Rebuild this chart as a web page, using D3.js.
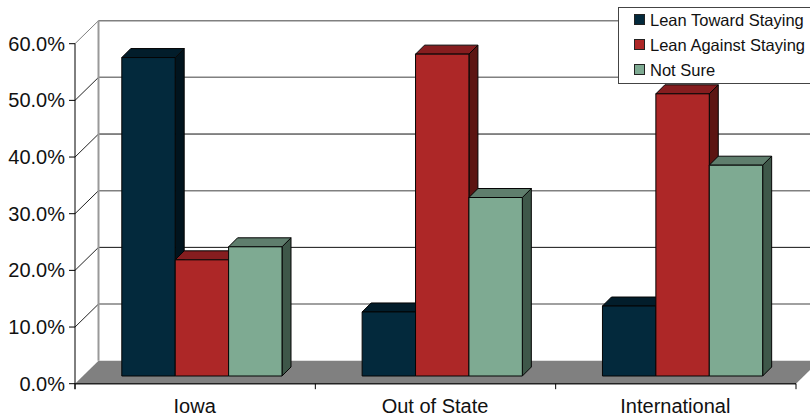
<!DOCTYPE html>
<html>
<head>
<meta charset="utf-8">
<script src="https://cdn.jsdelivr.net/npm/d3@7"></script>
<style>
  html, body { margin: 0; padding: 0; background: #fff; }
  svg { display: block; }
  text { font-family: "Liberation Sans", Arial, sans-serif; fill: #111; }
</style>
</head>
<body>
<div id="chart"></div>
<script>
const categories = ["Iowa", "Out of State", "International"];
const seriesNames = ["Lean Toward Staying", "Lean Against Staying", "Not Sure"];
const leanToward = [56.2, 11.3, 12.35];
const leanAgainst = [20.5, 56.8, 49.8];
const notSure = [22.8, 31.5, 37.2];
const yTicks = [0, 10, 20, 30, 40, 50, 60];
const darkGridTicks = [20, 40];
const frontColors = ["#03293c", "#ad2727", "#7eaa92"];
const topColors = ["#021d2b", "#861d1f", "#5f7e6d"];
const sideColors = ["#01141e", "#5c1512", "#3e5749"];

const width = 810, height = 417;
const svg = d3.select("#chart").append("svg")
  .attr("width", width).attr("height", height);

const x = d3.scaleBand().domain(categories).range([75, 796]);
const y = d3.scaleLinear().domain([0, 60]).range([383.7, 43.7]);

// Depth of the back wall and of each bar in the oblique projection.
const wallDx = 23.5, wallDy = -23;
const barDx = 9, barDy = -9;
const baseDy = -7.7;
const barW = 53.4;
const barStart = 46.8;

const pts = a => a.map(p => p.join(",")).join(" ");

// Floor
svg.append("polygon")
  .attr("points", pts([
    [x.range()[0], y(0)],
    [x.range()[0] + wallDx, y(0) + wallDy],
    [x.range()[1] + wallDx, y(0) + wallDy],
    [x.range()[1], y(0)]
  ]))
  .attr("fill", "#808080");

// Back wall gridlines and their slanted run to the axis
const grid = svg.append("g").attr("fill", "none");
yTicks.filter(t => t > 0).forEach(t => {
  const dark = darkGridTicks.includes(t);
  grid.append("line")
    .attr("x1", x.range()[0] + wallDx).attr("x2", width)
    .attr("y1", y(t) + wallDy).attr("y2", y(t) + wallDy)
    .attr("stroke", dark ? "#111" : "#808080").attr("stroke-width", dark ? 1 : 1.5);
  grid.append("line")
    .attr("x1", x.range()[0]).attr("x2", x.range()[0] + wallDx)
    .attr("y1", y(t)).attr("y2", y(t) + wallDy)
    .attr("stroke", t === 60 ? "#808080" : "#222").attr("stroke-width", 1);
});
grid.append("line")
  .attr("x1", x.range()[0] + wallDx).attr("x2", x.range()[0] + wallDx)
  .attr("y1", y(60) + wallDy).attr("y2", y(0) + wallDy)
  .attr("stroke", "#999").attr("stroke-width", 2);

// Bars: front, top and side faces
const seriesValues = [leanToward, leanAgainst, notSure];
const barsG = svg.append("g");
const barRows = [];
categories.forEach((c, ci) => {
  seriesValues.forEach((vals, si) => barRows.push({ c, si, v: vals[ci] }));
});
barsG.selectAll("g.bar").data(barRows).join("g").attr("class", "bar").each(function (d) {
  const g = d3.select(this);
  const x0 = x(d.c) + barStart + d.si * barW;
  const x1 = x0 + barW;
  const yb = y(0) + baseDy;
  const yt = y(d.v) + baseDy;
  const face = (points, fill) => g.append("polygon")
    .attr("points", pts(points)).attr("fill", fill)
    .attr("stroke", "#050505").attr("stroke-width", 1).attr("stroke-linejoin", "round");
  face([[x1, yb], [x1 + barDx, yb + barDy], [x1 + barDx, yt + barDy], [x1, yt]], sideColors[d.si]);
  face([[x0, yt], [x0 + barDx, yt + barDy], [x1 + barDx, yt + barDy], [x1, yt]], topColors[d.si]);
  face([[x0, yb], [x0, yt], [x1, yt], [x1, yb]], frontColors[d.si]);
});

// Value axis
const yAxis = svg.append("g").attr("stroke", "#000");
yAxis.append("line")
  .attr("x1", x.range()[0]).attr("x2", x.range()[0])
  .attr("y1", y(60)).attr("y2", y(0) + 5.5);
yAxis.selectAll("line.tick").data(yTicks).join("line").attr("class", "tick")
  .attr("x1", x.range()[0] - 6).attr("x2", x.range()[0])
  .attr("y1", d => y(d)).attr("y2", d => y(d));
svg.selectAll("text.ylab").data(yTicks).join("text").attr("class", "ylab")
  .attr("x", 65).attr("y", d => y(d) + 7)
  .attr("text-anchor", "end").attr("font-size", 20)
  .text(d => d.toFixed(1) + "%");

// Category axis
svg.append("line")
  .attr("x1", x.range()[0]).attr("x2", x.range()[1])
  .attr("y1", y(0)).attr("y2", y(0))
  .attr("stroke", "#222").attr("stroke-width", 1.5);
const xTickPositions = categories.map(c => x(c)).concat(x.range()[1]);
svg.selectAll("line.xtick").data(xTickPositions).join("line").attr("class", "xtick")
  .attr("x1", d => d).attr("x2", d => d)
  .attr("y1", y(0)).attr("y2", y(0) + 5.5)
  .attr("stroke", "#000");
svg.selectAll("text.xlab").data(categories).join("text").attr("class", "xlab")
  .attr("x", d => x(d) + x.bandwidth() / 2 - 0.5)
  .attr("y", 412.5).attr("text-anchor", "middle").attr("font-size", 20)
  .text(d => d);

// Legend
const legend = svg.append("g");
legend.append("rect")
  .attr("x", 618.5).attr("y", 7.5).attr("width", 200).attr("height", 76)
  .attr("fill", "#fff").attr("stroke", "#444");
seriesNames.forEach((name, i) => {
  const ly = 20 + i * 25;
  legend.append("rect")
    .attr("x", 634.5).attr("y", ly - 5.5).attr("width", 10).attr("height", 10)
    .attr("fill", frontColors[i]).attr("stroke", "#222");
  legend.append("text")
    .attr("x", 650).attr("y", ly + 6)
    .attr("font-size", 16.5)
    .text(name);
});
</script>
</body>
</html>
